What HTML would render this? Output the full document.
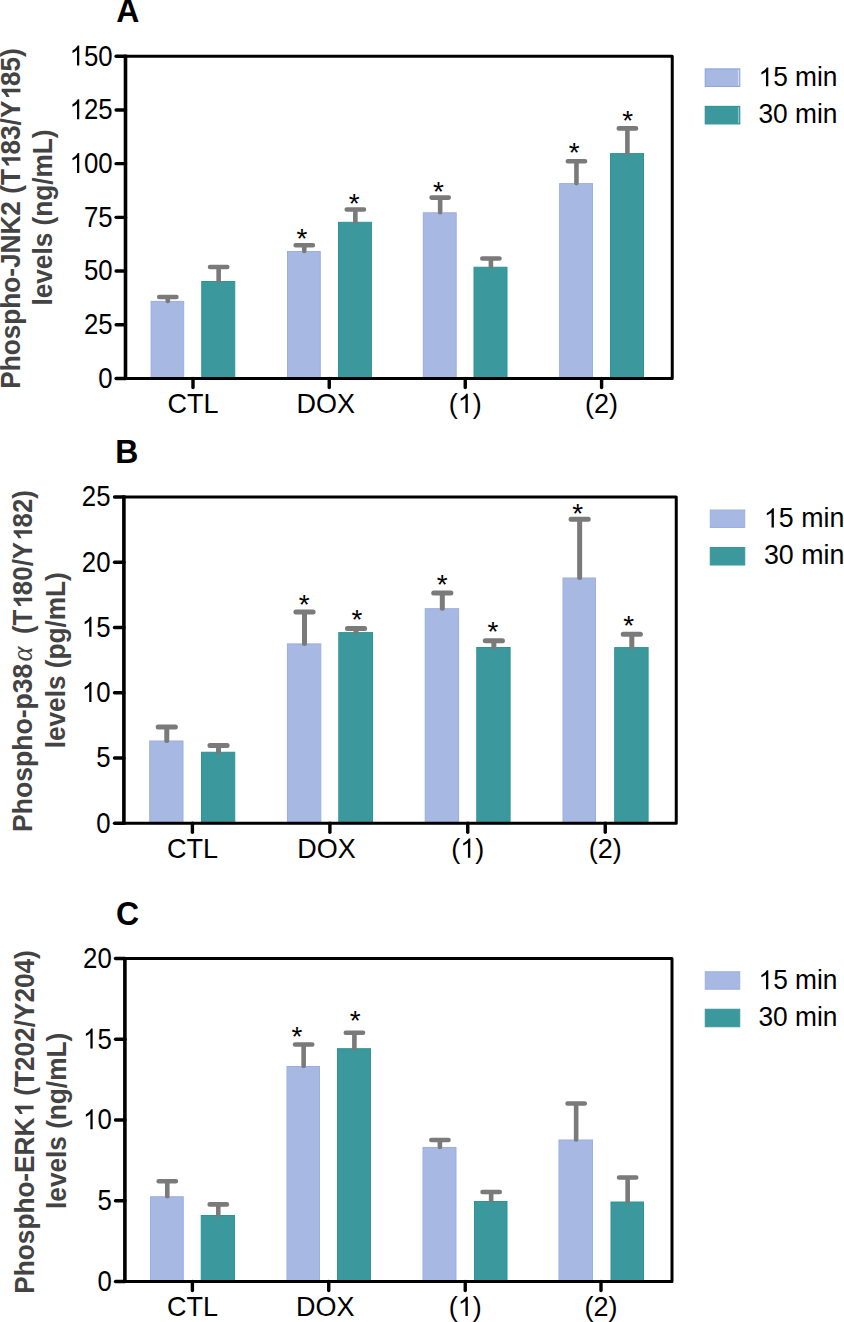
<!DOCTYPE html>
<html><head><meta charset="utf-8"><style>
html,body{margin:0;padding:0;background:#fff;}
svg{display:block;}
text{font-family:"Liberation Sans",sans-serif;}
.tk{font-size:29px;text-anchor:end;fill:#000;}
.ct{font-size:28.08px;text-anchor:middle;fill:#000;}
.lg{font-size:27.35px;fill:#000;}
.lt{font-size:33.28px;font-weight:bold;fill:#000;}
.yl{font-size:27.25px;font-weight:bold;fill:#434343;text-anchor:middle;}
tspan.o1{fill-opacity:0;}
.al{font-family:"Liberation Serif",serif;font-style:italic;font-weight:normal;}
.st{font-size:28px;text-anchor:middle;fill:#000;}
</style></head><body>
<svg width="844" height="1322" viewBox="0 0 844 1322">
<rect width="844" height="1322" fill="#fff"></rect>
<rect x="151.1" y="301.4" width="32.6" height="77.55" fill="#a7b8e3" stroke="#99afdf" stroke-width="1"></rect>
<rect x="201.75" y="281.5" width="33" height="97.45" fill="#3b999e" stroke="#2c9398" stroke-width="1"></rect>
<rect x="287.5" y="251.5" width="32.75" height="127.45" fill="#a7b8e3" stroke="#99afdf" stroke-width="1"></rect>
<rect x="338.5" y="222.3" width="32.9" height="156.65" fill="#3b999e" stroke="#2c9398" stroke-width="1"></rect>
<rect x="423.3" y="212.8" width="32.9" height="166.15" fill="#a7b8e3" stroke="#99afdf" stroke-width="1"></rect>
<rect x="474" y="267.25" width="33" height="111.7" fill="#3b999e" stroke="#2c9398" stroke-width="1"></rect>
<rect x="559.6" y="183.6" width="32.9" height="195.35" fill="#a7b8e3" stroke="#99afdf" stroke-width="1"></rect>
<rect x="610.5" y="153.6" width="33" height="225.35" fill="#3b999e" stroke="#2c9398" stroke-width="1"></rect>
<path d="M167.8 300.9V297M159.2 297H176.4" stroke="#7a7a7a" stroke-width="4.6" stroke-linecap="round" fill="none"></path>
<path d="M218.65 281V267M210.05 267H227.25" stroke="#7a7a7a" stroke-width="4.6" stroke-linecap="round" fill="none"></path>
<path d="M304.27 251V245.25M295.67 245.25H312.88" stroke="#7a7a7a" stroke-width="4.6" stroke-linecap="round" fill="none"></path>
<text x="302.05" y="247.7" class="st">*</text>
<path d="M355.35 221.8V209.55M346.75 209.55H363.95" stroke="#7a7a7a" stroke-width="4.6" stroke-linecap="round" fill="none"></path>
<text x="354.2" y="212.9" class="st">*</text>
<path d="M440.15 212.3V197.6M431.55 197.6H448.75" stroke="#7a7a7a" stroke-width="4.6" stroke-linecap="round" fill="none"></path>
<text x="438.5" y="201.2" class="st">*</text>
<path d="M490.9 266.75V258.5M482.3 258.5H499.5" stroke="#7a7a7a" stroke-width="4.6" stroke-linecap="round" fill="none"></path>
<path d="M576.45 183.1V161.25M567.85 161.25H585.05" stroke="#7a7a7a" stroke-width="4.6" stroke-linecap="round" fill="none"></path>
<text x="574.25" y="161.6" class="st">*</text>
<path d="M627.4 153.1V128.4M618.8 128.4H636" stroke="#7a7a7a" stroke-width="4.6" stroke-linecap="round" fill="none"></path>
<text x="627.8" y="130.2" class="st">*</text>
<path d="M125.2 56.25H672.25V378.45H125.2" fill="none" stroke="#000" stroke-width="3.0" stroke-linejoin="round"></path>
<path d="M125.5 54.75V379.95" fill="none" stroke="#000" stroke-width="3.6"></path>
<path d="M116.1 378.45H125.5" stroke="#000" stroke-width="3.4" stroke-linecap="round"></path>
<text transform="translate(112.6 387.75) scale(0.888 1)" class="tk">0</text>
<path d="M116.1 324.75H125.5" stroke="#000" stroke-width="3.4" stroke-linecap="round"></path>
<text transform="translate(112.6 334.05) scale(0.888 1)" class="tk">25</text>
<path d="M116.1 271.05H125.5" stroke="#000" stroke-width="3.4" stroke-linecap="round"></path>
<text transform="translate(112.6 280.35) scale(0.888 1)" class="tk">50</text>
<path d="M116.1 217.35H125.5" stroke="#000" stroke-width="3.4" stroke-linecap="round"></path>
<text transform="translate(112.6 226.65) scale(0.888 1)" class="tk">75</text>
<path d="M116.1 163.65H125.5" stroke="#000" stroke-width="3.4" stroke-linecap="round"></path>
<text transform="translate(112.6 172.95) scale(0.888 1)" class="tk"><tspan class="o1">1</tspan>00</text><path transform="translate(112.6 172.95) scale(0.888 1) translate(-48.362 0) scale(0.01416 -0.013554)" d="M763 0H583V1147Q518 1085 412.5 1023Q307 961 223 930V1104Q374 1175 487 1276Q600 1377 647 1472H763V0Z" fill="rgb(0, 0, 0)"></path>
<path d="M116.1 109.95H125.5" stroke="#000" stroke-width="3.4" stroke-linecap="round"></path>
<text transform="translate(112.6 119.25) scale(0.888 1)" class="tk"><tspan class="o1">1</tspan>25</text><path transform="translate(112.6 119.25) scale(0.888 1) translate(-48.362 0) scale(0.01416 -0.013554)" d="M763 0H583V1147Q518 1085 412.5 1023Q307 961 223 930V1104Q374 1175 487 1276Q600 1377 647 1472H763V0Z" fill="rgb(0, 0, 0)"></path>
<path d="M116.1 56.25H125.5" stroke="#000" stroke-width="3.4" stroke-linecap="round"></path>
<text transform="translate(112.6 65.55) scale(0.888 1)" class="tk"><tspan class="o1">1</tspan>50</text><path transform="translate(112.6 65.55) scale(0.888 1) translate(-48.362 0) scale(0.01416 -0.013554)" d="M763 0H583V1147Q518 1085 412.5 1023Q307 961 223 930V1104Q374 1175 487 1276Q600 1377 647 1472H763V0Z" fill="rgb(0, 0, 0)"></path>
<path d="M193 378.45V387.55" stroke="#000" stroke-width="3.4" stroke-linecap="round"></path>
<text transform="translate(193 412.95) scale(0.9615 1)" class="ct">CTL</text>
<path d="M329.25 378.45V387.55" stroke="#000" stroke-width="3.4" stroke-linecap="round"></path>
<text transform="translate(325.75 412.95) scale(0.9615 1)" class="ct">DOX</text>
<path d="M465.25 378.45V387.55" stroke="#000" stroke-width="3.4" stroke-linecap="round"></path>
<text transform="translate(465.25 412.95) scale(0.9615 1)" class="ct">(<tspan class="o1">1</tspan>)</text><path transform="translate(465.25 412.95) scale(0.9615 1) translate(-7.805 0) scale(0.013711000000000001 -0.013124)" d="M763 0H583V1147Q518 1085 412.5 1023Q307 961 223 930V1104Q374 1175 487 1276Q600 1377 647 1472H763V0Z" fill="rgb(0, 0, 0)"></path>
<path d="M601.6 378.45V387.55" stroke="#000" stroke-width="3.4" stroke-linecap="round"></path>
<text transform="translate(601.6 412.95) scale(0.9615 1)" class="ct">(2)</text>
<text transform="translate(116.3 22.4) scale(0.9615 1)" class="lt">A</text>
<text transform="translate(20.4 218.5) rotate(-90) scale(0.9615 1)" class="yl">Phospho-JNK2 (T<tspan class="o1">1</tspan>83/Y<tspan class="o1">1</tspan>85)</text><path transform="translate(20.4 218.5) rotate(-90) scale(0.9615 1) translate(122.579 0) scale(0.013305999999999998 -0.012788)" d="M928 0H647V1059Q493 915 284 846V1101Q394 1137 523 1237Q652 1337 700 1466H928V0Z" fill="rgb(67, 67, 67)"></path><path transform="translate(20.4 218.5) rotate(-90) scale(0.9615 1) translate(51.378 0) scale(0.013305999999999998 -0.012788)" d="M928 0H647V1059Q493 915 284 846V1101Q394 1137 523 1237Q652 1337 700 1466H928V0Z" fill="rgb(67, 67, 67)"></path>
<text transform="translate(52.2 217.5) rotate(-90) scale(0.9615 1)" class="yl">levels (ng/mL)</text>
<rect x="705.25" y="68.9" width="34.5" height="17.5" fill="#a7b8e3" stroke="#8ca5da" stroke-width="1.1"></rect>
<rect x="737.95" y="69.7" width="1.1" height="15.9" fill="#d4dcf2"></rect>
<rect x="705.25" y="106.4" width="34.5" height="17.5" fill="#3b999e" stroke="#2f9297" stroke-width="1.1"></rect>
<rect x="737.95" y="107.2" width="1.1" height="15.9" fill="#8ec7c9"></rect>
<text transform="translate(758.5 86.3) scale(0.9615 1)" class="lg"><tspan class="o1">1</tspan>5 min</text><path transform="translate(758.5 86.3) scale(0.9615 1) translate(0 0) scale(0.013354 -0.012783)" d="M763 0H583V1147Q518 1085 412.5 1023Q307 961 223 930V1104Q374 1175 487 1276Q600 1377 647 1472H763V0Z" fill="rgb(0, 0, 0)"></path>
<text transform="translate(758.5 123.3) scale(0.9615 1)" class="lg">30 min</text>
<rect x="149.75" y="741" width="33.25" height="82.75" fill="#a7b8e3" stroke="#99afdf" stroke-width="1"></rect>
<rect x="201.5" y="752.25" width="33.25" height="71.5" fill="#3b999e" stroke="#2c9398" stroke-width="1"></rect>
<rect x="287.4" y="643.9" width="33.4" height="179.85" fill="#a7b8e3" stroke="#99afdf" stroke-width="1"></rect>
<rect x="338.8" y="632.6" width="33.7" height="191.15" fill="#3b999e" stroke="#2c9398" stroke-width="1"></rect>
<rect x="425.2" y="608.7" width="33.4" height="215.05" fill="#a7b8e3" stroke="#99afdf" stroke-width="1"></rect>
<rect x="476.8" y="647.5" width="33.3" height="176.25" fill="#3b999e" stroke="#2c9398" stroke-width="1"></rect>
<rect x="563" y="578" width="32.5" height="245.75" fill="#a7b8e3" stroke="#99afdf" stroke-width="1"></rect>
<rect x="614.7" y="647.6" width="33.4" height="176.15" fill="#3b999e" stroke="#2c9398" stroke-width="1"></rect>
<path d="M166.78 740.5V727M158.18 727H175.38" stroke="#7a7a7a" stroke-width="5.0" stroke-linecap="round" fill="none"></path>
<path d="M218.53 751.75V745.6M209.93 745.6H227.12" stroke="#7a7a7a" stroke-width="5.0" stroke-linecap="round" fill="none"></path>
<path d="M304.5 643.4V611.9M295.9 611.9H313.1" stroke="#7a7a7a" stroke-width="5.0" stroke-linecap="round" fill="none"></path>
<text x="304.1" y="613.6" class="st">*</text>
<path d="M356.05 632.1V628.5M347.45 628.5H364.65" stroke="#7a7a7a" stroke-width="5.0" stroke-linecap="round" fill="none"></path>
<text x="357" y="628.9" class="st">*</text>
<path d="M442.3 608.2V593.1M433.7 593.1H450.9" stroke="#7a7a7a" stroke-width="5.0" stroke-linecap="round" fill="none"></path>
<text x="442.1" y="594.1" class="st">*</text>
<path d="M493.85 647V640.7M485.25 640.7H502.45" stroke="#7a7a7a" stroke-width="5.0" stroke-linecap="round" fill="none"></path>
<text x="493" y="640.7" class="st">*</text>
<path d="M579.65 577.5V519.2M571.05 519.2H588.25" stroke="#7a7a7a" stroke-width="5.0" stroke-linecap="round" fill="none"></path>
<text x="577.8" y="522.9" class="st">*</text>
<path d="M631.8 647.1V634.2M623.2 634.2H640.4" stroke="#7a7a7a" stroke-width="5.0" stroke-linecap="round" fill="none"></path>
<text x="628.65" y="635.3" class="st">*</text>
<path d="M123.6 497H676.25V823.25H123.6" fill="none" stroke="#000" stroke-width="3.0" stroke-linejoin="round"></path>
<path d="M123.9 495.5V824.75" fill="none" stroke="#000" stroke-width="3.6"></path>
<path d="M114.5 823.25H123.9" stroke="#000" stroke-width="3.4" stroke-linecap="round"></path>
<text transform="translate(110.5 832.55) scale(0.888 1)" class="tk">0</text>
<path d="M114.5 758H123.9" stroke="#000" stroke-width="3.4" stroke-linecap="round"></path>
<text transform="translate(110.5 767.3) scale(0.888 1)" class="tk">5</text>
<path d="M114.5 692.75H123.9" stroke="#000" stroke-width="3.4" stroke-linecap="round"></path>
<text transform="translate(110.5 702.05) scale(0.888 1)" class="tk"><tspan class="o1">1</tspan>0</text><path transform="translate(110.5 702.05) scale(0.888 1) translate(-32.253 0) scale(0.01416 -0.013554)" d="M763 0H583V1147Q518 1085 412.5 1023Q307 961 223 930V1104Q374 1175 487 1276Q600 1377 647 1472H763V0Z" fill="rgb(0, 0, 0)"></path>
<path d="M114.5 627.5H123.9" stroke="#000" stroke-width="3.4" stroke-linecap="round"></path>
<text transform="translate(110.5 636.8) scale(0.888 1)" class="tk"><tspan class="o1">1</tspan>5</text><path transform="translate(110.5 636.8) scale(0.888 1) translate(-32.253 0) scale(0.01416 -0.013554)" d="M763 0H583V1147Q518 1085 412.5 1023Q307 961 223 930V1104Q374 1175 487 1276Q600 1377 647 1472H763V0Z" fill="rgb(0, 0, 0)"></path>
<path d="M114.5 562.25H123.9" stroke="#000" stroke-width="3.4" stroke-linecap="round"></path>
<text transform="translate(110.5 571.55) scale(0.888 1)" class="tk">20</text>
<path d="M114.5 497H123.9" stroke="#000" stroke-width="3.4" stroke-linecap="round"></path>
<text transform="translate(110.5 506.3) scale(0.888 1)" class="tk">25</text>
<path d="M192.4 823.25V832.35" stroke="#000" stroke-width="3.4" stroke-linecap="round"></path>
<text transform="translate(192.4 857.75) scale(0.9615 1)" class="ct">CTL</text>
<path d="M329.9 823.25V832.35" stroke="#000" stroke-width="3.4" stroke-linecap="round"></path>
<text transform="translate(326.4 857.75) scale(0.9615 1)" class="ct">DOX</text>
<path d="M467.75 823.25V832.35" stroke="#000" stroke-width="3.4" stroke-linecap="round"></path>
<text transform="translate(467.75 857.75) scale(0.9615 1)" class="ct">(<tspan class="o1">1</tspan>)</text><path transform="translate(467.75 857.75) scale(0.9615 1) translate(-7.805 0) scale(0.013711000000000001 -0.013124)" d="M763 0H583V1147Q518 1085 412.5 1023Q307 961 223 930V1104Q374 1175 487 1276Q600 1377 647 1472H763V0Z" fill="rgb(0, 0, 0)"></path>
<path d="M605.25 823.25V832.35" stroke="#000" stroke-width="3.4" stroke-linecap="round"></path>
<text transform="translate(605.25 857.75) scale(0.9615 1)" class="ct">(2)</text>
<text transform="translate(115.3 462.8) scale(0.9615 1)" class="lt">B</text>
<text transform="translate(32.2 832) rotate(-90) scale(0.9615 1)" class="yl" style="text-anchor:start;font-size:27.66px">Phospho-p38</text>
<text transform="translate(32.2 661.5) rotate(-90) scale(0.9615 1)" class="yl al" style="text-anchor:start;font-size:29.64px">α</text>
<text transform="translate(32.2 634) rotate(-90) scale(0.9615 1)" class="yl" style="text-anchor:start;font-size:26.94px">(T<tspan class="o1">1</tspan>80/Y<tspan class="o1">1</tspan>82)</text><path transform="translate(32.2 634) rotate(-90) scale(0.9615 1) translate(95.779 0) scale(0.013154 -0.012643000000000001)" d="M928 0H647V1059Q493 915 284 846V1101Q394 1137 523 1237Q652 1337 700 1466H928V0Z" fill="rgb(67, 67, 67)"></path><path transform="translate(32.2 634) rotate(-90) scale(0.9615 1) translate(25.422 0) scale(0.013154 -0.012643000000000001)" d="M928 0H647V1059Q493 915 284 846V1101Q394 1137 523 1237Q652 1337 700 1466H928V0Z" fill="rgb(67, 67, 67)"></path>
<text transform="translate(64.8 660.25) rotate(-90) scale(0.9615 1)" class="yl">levels (pg/mL)</text>
<rect x="710.25" y="510" width="34.5" height="17.5" fill="#a7b8e3" stroke="#9db1e0" stroke-width="1"></rect>
<rect x="710.25" y="547.5" width="34.5" height="17.5" fill="#3b999e" stroke="#36969b" stroke-width="1"></rect>
<text transform="translate(763.9 527.4) scale(0.9615 1)" class="lg" style="font-size:27.87px"><tspan class="o1">1</tspan>5 min</text><path transform="translate(763.9 527.4) scale(0.9615 1) translate(0 0) scale(0.013608 -0.013026)" d="M763 0H583V1147Q518 1085 412.5 1023Q307 961 223 930V1104Q374 1175 487 1276Q600 1377 647 1472H763V0Z" fill="rgb(0, 0, 0)"></path>
<text transform="translate(763.9 564.4) scale(0.9615 1)" class="lg" style="font-size:27.87px">30 min</text>
<rect x="150.5" y="1196.75" width="32.75" height="85.2" fill="#a7b8e3" stroke="#99afdf" stroke-width="1"></rect>
<rect x="201.25" y="1215.5" width="33.25" height="66.45" fill="#3b999e" stroke="#2c9398" stroke-width="1"></rect>
<rect x="287" y="1066.5" width="32.5" height="215.45" fill="#a7b8e3" stroke="#99afdf" stroke-width="1"></rect>
<rect x="337.5" y="1048.7" width="33" height="233.25" fill="#3b999e" stroke="#2c9398" stroke-width="1"></rect>
<rect x="423" y="1147.5" width="33" height="134.45" fill="#a7b8e3" stroke="#99afdf" stroke-width="1"></rect>
<rect x="474.5" y="1201.5" width="32.5" height="80.45" fill="#3b999e" stroke="#2c9398" stroke-width="1"></rect>
<rect x="559" y="1140" width="33.5" height="141.95" fill="#a7b8e3" stroke="#99afdf" stroke-width="1"></rect>
<rect x="611" y="1202" width="32.5" height="79.95" fill="#3b999e" stroke="#2c9398" stroke-width="1"></rect>
<path d="M167.28 1196.25V1181.25M158.68 1181.25H175.88" stroke="#7a7a7a" stroke-width="4.6" stroke-linecap="round" fill="none"></path>
<path d="M218.28 1215V1204.4M209.68 1204.4H226.88" stroke="#7a7a7a" stroke-width="4.6" stroke-linecap="round" fill="none"></path>
<path d="M303.65 1066V1044.5M295.05 1044.5H312.25" stroke="#7a7a7a" stroke-width="4.6" stroke-linecap="round" fill="none"></path>
<text x="297" y="1046.4" class="st">*</text>
<path d="M354.4 1048.2V1032.8M345.8 1032.8H363" stroke="#7a7a7a" stroke-width="4.6" stroke-linecap="round" fill="none"></path>
<text x="355.1" y="1029.9" class="st">*</text>
<path d="M439.9 1147V1140M431.3 1140H448.5" stroke="#7a7a7a" stroke-width="4.6" stroke-linecap="round" fill="none"></path>
<path d="M491.15 1201V1192M482.55 1192H499.75" stroke="#7a7a7a" stroke-width="4.6" stroke-linecap="round" fill="none"></path>
<path d="M576.15 1139.5V1103.5M567.55 1103.5H584.75" stroke="#7a7a7a" stroke-width="4.6" stroke-linecap="round" fill="none"></path>
<path d="M627.65 1201.5V1177.5M619.05 1177.5H636.25" stroke="#7a7a7a" stroke-width="4.6" stroke-linecap="round" fill="none"></path>
<path d="M124.6 958.5H672V1281.45H124.6" fill="none" stroke="#000" stroke-width="3.0" stroke-linejoin="round"></path>
<path d="M124.9 957V1282.95" fill="none" stroke="#000" stroke-width="3.6"></path>
<path d="M115.5 1281.45H124.9" stroke="#000" stroke-width="3.4" stroke-linecap="round"></path>
<text transform="translate(111.7 1290.75) scale(0.888 1)" class="tk">0</text>
<path d="M115.5 1200.71H124.9" stroke="#000" stroke-width="3.4" stroke-linecap="round"></path>
<text transform="translate(111.7 1210.01) scale(0.888 1)" class="tk">5</text>
<path d="M115.5 1119.97H124.9" stroke="#000" stroke-width="3.4" stroke-linecap="round"></path>
<text transform="translate(111.7 1129.27) scale(0.888 1)" class="tk"><tspan class="o1">1</tspan>0</text><path transform="translate(111.7 1129.27) scale(0.888 1) translate(-32.253 0) scale(0.01416 -0.013554)" d="M763 0H583V1147Q518 1085 412.5 1023Q307 961 223 930V1104Q374 1175 487 1276Q600 1377 647 1472H763V0Z" fill="rgb(0, 0, 0)"></path>
<path d="M115.5 1039.24H124.9" stroke="#000" stroke-width="3.4" stroke-linecap="round"></path>
<text transform="translate(111.7 1048.54) scale(0.888 1)" class="tk"><tspan class="o1">1</tspan>5</text><path transform="translate(111.7 1048.54) scale(0.888 1) translate(-32.253 0) scale(0.01416 -0.013554)" d="M763 0H583V1147Q518 1085 412.5 1023Q307 961 223 930V1104Q374 1175 487 1276Q600 1377 647 1472H763V0Z" fill="rgb(0, 0, 0)"></path>
<path d="M115.5 958.5H124.9" stroke="#000" stroke-width="3.4" stroke-linecap="round"></path>
<text transform="translate(111.7 967.8) scale(0.888 1)" class="tk">20</text>
<path d="M192.4 1281.45V1290.55" stroke="#000" stroke-width="3.4" stroke-linecap="round"></path>
<text transform="translate(192.4 1315.95) scale(0.9615 1)" class="ct">CTL</text>
<path d="M328.75 1281.45V1290.55" stroke="#000" stroke-width="3.4" stroke-linecap="round"></path>
<text transform="translate(325.25 1315.95) scale(0.9615 1)" class="ct">DOX</text>
<path d="M465.25 1281.45V1290.55" stroke="#000" stroke-width="3.4" stroke-linecap="round"></path>
<text transform="translate(465.25 1315.95) scale(0.9615 1)" class="ct">(<tspan class="o1">1</tspan>)</text><path transform="translate(465.25 1315.95) scale(0.9615 1) translate(-7.805 0) scale(0.013711000000000001 -0.013124)" d="M763 0H583V1147Q518 1085 412.5 1023Q307 961 223 930V1104Q374 1175 487 1276Q600 1377 647 1472H763V0Z" fill="rgb(0, 0, 0)"></path>
<path d="M601 1281.45V1290.55" stroke="#000" stroke-width="3.4" stroke-linecap="round"></path>
<text transform="translate(601 1315.95) scale(0.9615 1)" class="ct">(2)</text>
<text transform="translate(116 924.6) scale(0.9615 1)" class="lt">C</text>
<text transform="translate(33.6 1121.9) rotate(-90) scale(0.9615 1)" class="yl">Phospho-ERK<tspan class="o1">1</tspan> (T202/Y204)</text><path transform="translate(33.6 1121.9) rotate(-90) scale(0.9615 1) translate(4.476 0) scale(0.013305999999999998 -0.012788)" d="M928 0H647V1059Q493 915 284 846V1101Q394 1137 523 1237Q652 1337 700 1466H928V0Z" fill="rgb(67, 67, 67)"></path>
<text transform="translate(65.85 1120.9) rotate(-90) scale(0.9615 1)" class="yl">levels (ng/mL)</text>
<rect x="705.25" y="971.75" width="34.5" height="17.5" fill="#a7b8e3" stroke="#9db1e0" stroke-width="1"></rect>
<rect x="705.25" y="1009.25" width="34.5" height="17.5" fill="#3b999e" stroke="#36969b" stroke-width="1"></rect>
<text transform="translate(758.5 989.15) scale(0.9615 1)" class="lg"><tspan class="o1">1</tspan>5 min</text><path transform="translate(758.5 989.15) scale(0.9615 1) translate(0 0) scale(0.013354 -0.012783)" d="M763 0H583V1147Q518 1085 412.5 1023Q307 961 223 930V1104Q374 1175 487 1276Q600 1377 647 1472H763V0Z" fill="rgb(0, 0, 0)"></path>
<text transform="translate(758.5 1026.15) scale(0.9615 1)" class="lg">30 min</text>
</svg>
</body></html>
